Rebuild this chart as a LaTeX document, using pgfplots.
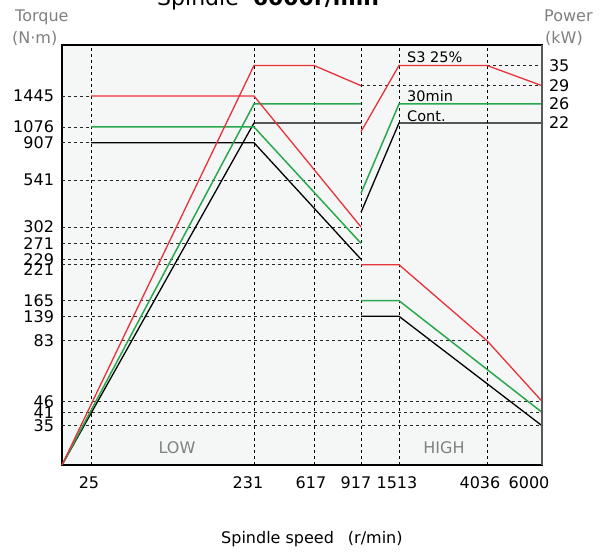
\documentclass[border=0pt]{standalone}
\usepackage{pgfplots}
\pgfplotsset{compat=1.18}
\usepackage{fontspec}
\setmainfont{DejaVu Sans}
\definecolor{cred}{RGB}{232,50,58}
\definecolor{cgreen}{RGB}{42,168,78}
\definecolor{bg}{RGB}{245,247,246}
\definecolor{lab}{RGB}{128,128,128}
\newcommand\tickfont{\fontsize{16}{18}\selectfont}
\newcommand\inplot{\fontsize{14.5}{16}\selectfont}
\begin{document}
\begin{tikzpicture}[x=1pt,y=1pt]
\begin{axis}[
  at={(62pt,86pt)}, anchor=south west,
  scale only axis, width=480pt, height=420pt,
  xmin=0, xmax=480, ymin=0, ymax=420,
  axis background/.style={fill=bg},
  axis line style={black, line width=1.3pt},
  major tick length=0pt, tick style={draw=none},
  /pgf/number format/assume math mode=true,
  xtick={27,186,249,294,335,418,467},
  xticklabels={25,231,617,917,1513,4036,6000},
  ytick={369,338,322.3,285,238,221.7,205.7,200.3,164.3,148.7,124.3,63.7,52.7,39.3},
  yticklabels={1445,1076,907,541,302,271,229,{\raisebox{-5pt}[\height][0pt]{221}},165,139,83,46,41,35},
  ticklabel style={font=\tickfont},
  xticklabel style={anchor=base, yshift=-23pt},
  yticklabel style={anchor=east, xshift=-4.5pt},
  clip=false,
  grid line/.style={black!85, line width=0.8pt, dash pattern=on 3pt off 3pt},
]
% vertical grid lines
\addplot[grid line, black] coordinates {(29,0) (29,420)};
\addplot[grid line, black] coordinates {(192,0) (192,420)};
\addplot[grid line, black] coordinates {(252,0) (252,420)};
\addplot[grid line, black] coordinates {(299,0) (299,420)};
\addplot[grid line, black] coordinates {(337,0) (337,420)};
\addplot[grid line, black] coordinates {(425,0) (425,420)};
% torque grid lines (left)
\addplot[grid line] coordinates {(0,369) (29,369)};
\addplot[grid line] coordinates {(0,338) (29,338)};
\addplot[grid line] coordinates {(0,322.3) (29,322.3)};
\addplot[grid line] coordinates {(0,285) (252,285)};
\addplot[grid line] coordinates {(0,238) (299,238)};
\addplot[grid line] coordinates {(0,221.7) (299,221.7)};
\addplot[grid line] coordinates {(0,205.7) (299,205.7)};
\addplot[grid line] coordinates {(0,200.3) (299,200.3)};
\addplot[grid line] coordinates {(0,164.3) (299,164.3)};
\addplot[grid line] coordinates {(0,148.7) (299,148.7)};
\addplot[grid line] coordinates {(0,124.3) (425,124.3)};
\addplot[grid line] coordinates {(0,63.7) (480,63.7)};
\addplot[grid line] coordinates {(0,52.7) (480,52.7)};
\addplot[grid line] coordinates {(0,39.3) (480,39.3)};
% power grid lines (right)
\addplot[grid line] coordinates {(425,399.5) (480,399.5)};
\addplot[grid line] coordinates {(299,379.3) (480,379.3)};
% black: Cont.
\addplot[black, line width=1.3pt] coordinates {(0,0) (192,342) (299,342)};
\addplot[black, line width=1.3pt] coordinates {(29,322.3) (192,322.3) (299,205.7)};
\addplot[black, line width=1.3pt] coordinates {(299,252.7) (337,342) (480,342)};
\addplot[black, line width=1.3pt] coordinates {(299,148.7) (337,148.7) (480,39.3)};
% green: 30min
\addplot[cgreen, line width=1.5pt] coordinates {(0,0) (192,361) (299,361)};
\addplot[cgreen, line width=1.5pt] coordinates {(29,338) (192,338) (299,221.7)};
\addplot[cgreen, line width=1.5pt] coordinates {(299,271.7) (337,361) (480,361)};
\addplot[cgreen, line width=1.5pt] coordinates {(299,164.3) (337,164.3) (480,52.7)};
% red: S3 25%
\addplot[cred, line width=1.3pt] coordinates {(0,0) (192,399.5) (252,399.5) (299,379.3)};
\addplot[cred, line width=1.3pt] coordinates {(29,369) (192,369) (299,238)};
\addplot[cred, line width=1.3pt] coordinates {(299,333.3) (337,399.5) (425,399.5) (480,379.3)};
\addplot[cred, line width=1.3pt] coordinates {(299,200.3) (337,200.3) (425,124.3) (480,63.7)};
% labels
\node[anchor=base west, inner sep=0pt, font=\inplot] at (axis cs:345,402) {S3 25\%};
\node[anchor=base west, inner sep=0pt, font=\inplot] at (axis cs:345,363) {30min};
\node[anchor=base west, inner sep=0pt, font=\inplot] at (axis cs:345,343.5) {Cont.};
\node[text=lab, font=\tickfont] at (axis cs:115,17.3) {LOW};
\node[text=lab, font=\tickfont] at (axis cs:382,17.3) {HIGH};
\end{axis}
\begin{axis}[
  at={(62pt,86pt)}, anchor=south west,
  scale only axis, width=480pt, height=420pt,
  xmin=0, xmax=480, ymin=0, ymax=420,
  axis x line=none, axis y line*=right,
  y axis line style={black!65, line width=1.3pt, -},
  major tick length=0pt, tick style={draw=none},
  ytick={399.5,379.3,361,342},
  yticklabels={35,29,26,22},
  yticklabel style={anchor=west, xshift=3.5pt, font=\tickfont},
]
\addplot[draw=none] coordinates {(0,0) (480,420)};
\end{axis}
\node[anchor=base west, text=lab, font=\tickfont, inner sep=0pt] at (15,529) {Torque};
\node[anchor=base west, text=lab, font=\tickfont, inner sep=0pt] at (12,507) {(N·m)};
\node[anchor=base west, text=lab, font=\tickfont, inner sep=0pt] at (544,529) {Power};
\node[anchor=base west, text=lab, font=\tickfont, inner sep=0pt] at (545,507) {(kW)};
\node[anchor=base west, font=\tickfont, inner sep=0pt] at (221,8) {Spindle speed\hspace{14pt}(r/min)};
\node[anchor=base west, font=\fontsize{22}{24}\selectfont, inner sep=0pt] at (157,545) {Spindle\hspace{14pt}\textbf{6000r/min}};
\pgfresetboundingbox
\path[use as bounding box] (0,0) rectangle (615,551);
\end{tikzpicture}
\end{document}
